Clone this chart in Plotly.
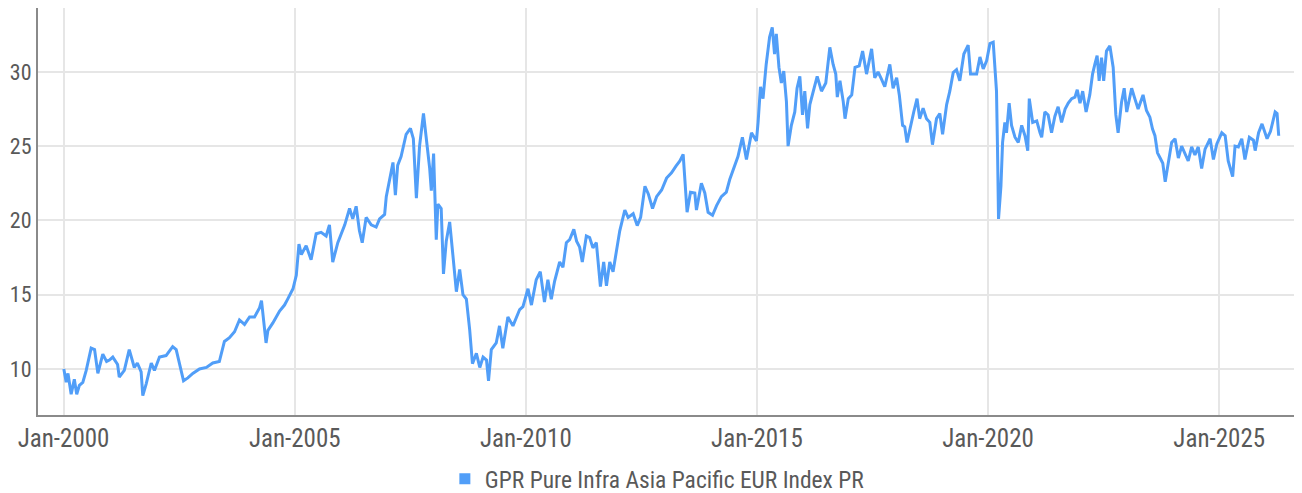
import plotly.graph_objects as go

series_name = "GPR Pure Infra Asia Pacific EUR Index PR"

dates = [
    "2000-01-03", "2000-01-22", "2000-02-05", "2000-03-01", "2000-03-26", "2000-04-14", "2000-05-05", "2000-06-01",
    "2000-06-28", "2000-08-06", "2000-09-02", "2000-09-28", "2000-11-06", "2000-12-06", "2000-12-28", "2001-01-24",
    "2001-03-03", "2001-03-16", "2001-04-25", "2001-06-03", "2001-07-13", "2001-08-06", "2001-09-05", "2001-09-18",
    "2001-10-15", "2001-11-24", "2001-12-19", "2002-01-28", "2002-03-21", "2002-05-12", "2002-06-09", "2002-07-18",
    "2002-08-06", "2002-09-09", "2002-10-18", "2002-12-10", "2003-02-03", "2003-03-25", "2003-05-16", "2003-06-25",
    "2003-08-04", "2003-09-13", "2003-10-22", "2003-12-01", "2004-01-10", "2004-02-18", "2004-03-28", "2004-04-13",
    "2004-05-19", "2004-06-03", "2004-07-12", "2004-09-03", "2004-10-12", "2004-11-06", "2004-12-18", "2005-01-13",
    "2005-02-03", "2005-02-22", "2005-04-01", "2005-05-10", "2005-06-19", "2005-07-28", "2005-09-06", "2005-10-02",
    "2005-10-28", "2005-12-07", "2006-01-31", "2006-03-10", "2006-04-04", "2006-05-01", "2006-05-27", "2006-06-18",
    "2006-07-19", "2006-08-28", "2006-10-06", "2006-11-02", "2006-12-12", "2006-12-25", "2007-01-20", "2007-02-16",
    "2007-03-07", "2007-03-25", "2007-04-21", "2007-05-31", "2007-07-04", "2007-07-27", "2007-08-20", "2007-09-14",
    "2007-10-15", "2007-11-09", "2007-12-03", "2007-12-16", "2008-01-03", "2008-01-24", "2008-02-06", "2008-03-03",
    "2008-03-16", "2008-03-21", "2008-04-12", "2008-05-09", "2008-06-03", "2008-07-01", "2008-07-27", "2008-08-22",
    "2008-09-18", "2008-10-14", "2008-11-05", "2008-12-06", "2009-01-02", "2009-01-28", "2009-02-24", "2009-03-12",
    "2009-04-03", "2009-05-12", "2009-06-07", "2009-07-03", "2009-08-12", "2009-09-21", "2009-11-13", "2009-12-09",
    "2010-01-18", "2010-02-14", "2010-03-24", "2010-04-25", "2010-05-28", "2010-06-24", "2010-07-21", "2010-08-16",
    "2010-09-25", "2010-10-21", "2010-11-17", "2010-12-13", "2011-01-15", "2011-02-06", "2011-03-02", "2011-03-23",
    "2011-04-24", "2011-05-20", "2011-06-15", "2011-07-12", "2011-08-13", "2011-09-08", "2011-09-30", "2011-10-26",
    "2011-11-21", "2011-12-18", "2012-01-13", "2012-02-22", "2012-03-19", "2012-04-28", "2012-05-30", "2012-06-26",
    "2012-07-30", "2012-08-25", "2012-09-28", "2012-10-30", "2012-12-09", "2013-01-17", "2013-02-25", "2013-04-01",
    "2013-05-02", "2013-05-28", "2013-06-10", "2013-06-28", "2013-07-25", "2013-08-28", "2013-09-10", "2013-10-19",
    "2013-11-15", "2013-12-11", "2014-01-15", "2014-02-16", "2014-03-26", "2014-05-04", "2014-05-31", "2014-07-09",
    "2014-08-04", "2014-09-08", "2014-10-10", "2014-11-19", "2014-12-28", "2015-01-10", "2015-01-29", "2015-02-18",
    "2015-03-15", "2015-04-11", "2015-05-02", "2015-05-20", "2015-06-03", "2015-06-24", "2015-07-13", "2015-08-01",
    "2015-08-22", "2015-09-04", "2015-09-30", "2015-10-27", "2015-11-14", "2015-12-06", "2015-12-27", "2016-01-14",
    "2016-02-05", "2016-02-23", "2016-03-19", "2016-04-21", "2016-05-25", "2016-06-28", "2016-07-30", "2016-08-25",
    "2016-09-15", "2016-09-27", "2016-10-18", "2016-11-13", "2016-11-27", "2016-12-23", "2017-01-19", "2017-02-14",
    "2017-03-19", "2017-04-15", "2017-05-16", "2017-06-25", "2017-07-20", "2017-08-15", "2017-09-12", "2017-10-07",
    "2017-11-16", "2017-12-12", "2018-01-09", "2018-01-30", "2018-02-25", "2018-03-14", "2018-04-01", "2018-04-28",
    "2018-05-24", "2018-06-19", "2018-07-10", "2018-08-06", "2018-09-02", "2018-09-28", "2018-10-19", "2018-11-20",
    "2018-12-16", "2019-01-07", "2019-02-08", "2019-03-05", "2019-04-01", "2019-04-27", "2019-05-23", "2019-06-24",
    "2019-07-28", "2019-08-16", "2019-10-03", "2019-10-29", "2019-11-24", "2019-12-21", "2020-01-16", "2020-02-11",
    "2020-02-25", "2020-03-08", "2020-03-16", "2020-03-24", "2020-04-12", "2020-04-25", "2020-05-13", "2020-05-26",
    "2020-06-16", "2020-07-05", "2020-08-01", "2020-08-27", "2020-09-23", "2020-10-19", "2020-11-10", "2020-11-22",
    "2020-12-19", "2021-01-20", "2021-02-15", "2021-02-28", "2021-03-25", "2021-04-20", "2021-05-17", "2021-06-12",
    "2021-07-08", "2021-08-04", "2021-09-01", "2021-09-26", "2021-10-23", "2021-11-18", "2021-12-06", "2021-12-28",
    "2022-01-18", "2022-02-14", "2022-03-15", "2022-04-06", "2022-04-24", "2022-05-12", "2022-05-28", "2022-06-16",
    "2022-07-03", "2022-07-25", "2022-08-21", "2022-09-16", "2022-10-07", "2022-10-25", "2022-11-21", "2022-12-12",
    "2023-01-01", "2023-02-09", "2023-03-06", "2023-04-01", "2023-05-10", "2023-06-06", "2023-07-03", "2023-07-24",
    "2023-08-12", "2023-09-01", "2023-09-22", "2023-10-13", "2023-11-01", "2023-11-26", "2023-12-22", "2024-01-18",
    "2024-02-13", "2024-03-10", "2024-04-05", "2024-05-01", "2024-05-28", "2024-06-23", "2024-07-19", "2024-08-15",
    "2024-09-11", "2024-10-21", "2024-11-16", "2024-12-13", "2025-01-21", "2025-02-17", "2025-03-13", "2025-04-17",
    "2025-05-06", "2025-06-01", "2025-06-28", "2025-07-23", "2025-08-27", "2025-09-28", "2025-10-12", "2025-11-08",
    "2025-12-05", "2026-01-14", "2026-02-10", "2026-03-19", "2026-04-03", "2026-04-16",
]

values = [
    10.0, 9.1, 9.7, 8.3, 9.3, 8.3, 8.9, 9.1,
    9.9, 11.4, 11.3, 9.7, 11.0, 10.5, 10.6, 10.8,
    10.3, 9.45, 9.9, 11.3, 10.1, 10.4, 9.8, 8.2,
    9.0, 10.4, 9.9, 10.8, 10.9, 11.5, 11.3, 10.0,
    9.2, 9.4, 9.7, 10.0, 10.1, 10.4, 10.5, 11.85,
    12.1, 12.5, 13.3, 13.0, 13.5, 13.5, 14.1, 14.6,
    11.75, 12.6, 13.1, 13.9, 14.3, 14.7, 15.4, 16.3,
    18.4, 17.7, 18.3, 17.35, 19.1, 19.2, 18.95, 19.7,
    17.2, 18.5, 19.7, 20.8, 20.1, 20.95, 19.3, 18.5,
    20.2, 19.7, 19.55, 20.1, 20.4, 21.6, 22.7, 23.9,
    21.7, 23.7, 24.3, 25.8, 26.2, 25.5, 21.5, 25.0,
    27.2, 25.5, 23.5, 22.0, 24.5, 18.7, 21.1, 20.8,
    17.9, 16.4, 18.6, 19.9, 17.7, 15.2, 16.7, 15.0,
    14.7, 12.65, 10.35, 11.05, 10.1, 10.8, 10.6, 9.2,
    11.3, 11.75, 12.9, 11.4, 13.5, 12.9, 14.0, 14.2,
    15.4, 14.3, 16.0, 16.55, 14.5, 16.0, 14.7, 15.9,
    17.2, 16.85, 18.5, 18.7, 19.4, 18.6, 18.2, 17.2,
    18.95, 18.85, 18.15, 18.5, 15.55, 17.2, 15.6, 17.2,
    16.55, 17.9, 19.3, 20.7, 20.2, 20.45, 19.65, 20.2,
    22.3, 21.8, 20.8, 21.6, 22.05, 22.85, 23.2, 23.65,
    24.0, 24.45, 22.95, 20.55, 21.9, 21.85, 20.7, 22.5,
    21.85, 20.55, 20.35, 21.0, 21.6, 21.9, 22.75, 23.65,
    24.3, 25.6, 24.1, 25.9, 25.35, 26.6, 29.0, 28.2,
    30.5, 32.35, 33.0, 31.2, 32.55, 30.3, 29.25, 30.05,
    28.0, 25.0, 26.4, 27.3, 28.9, 29.7, 27.1, 28.7,
    26.2, 27.8, 28.7, 29.7, 28.7, 29.25, 31.65, 30.5,
    29.85, 28.3, 29.4, 28.0, 26.85, 28.2, 28.45, 30.3,
    30.4, 31.4, 29.85, 31.55, 29.6, 30.0, 29.5, 29.0,
    30.5, 28.9, 29.6, 28.45, 26.4, 26.3, 25.25, 26.4,
    27.3, 28.2, 26.85, 27.55, 26.85, 26.6, 25.1, 26.85,
    27.2, 25.8, 27.8, 28.7, 29.95, 30.15, 29.4, 31.2,
    31.8, 29.85, 29.85, 31.0, 30.2, 30.75, 31.9, 32.0,
    30.3, 28.7, 24.8, 20.1, 22.3, 25.25, 26.6, 25.9,
    27.9, 26.4, 25.6, 25.25, 26.4, 25.7, 24.7, 28.2,
    26.6, 26.7, 25.9, 25.6, 27.3, 27.1, 25.9, 27.0,
    27.65, 26.6, 27.5, 27.9, 28.2, 28.3, 28.8, 27.9,
    28.7, 27.3, 28.45, 29.85, 30.5, 31.1, 29.4, 30.95,
    29.4, 31.4, 31.75, 30.3, 27.1, 25.9, 27.95, 28.9,
    27.3, 28.9, 28.2, 27.5, 28.45, 27.4, 26.95, 26.15,
    25.7, 24.55, 24.2, 23.85, 22.6, 23.9, 25.25, 25.5,
    24.2, 25.0, 24.55, 24.0, 24.95, 24.4, 24.95, 23.5,
    24.8, 25.5, 24.1, 25.15, 25.9, 25.7, 24.0, 22.95,
    25.0, 24.95, 25.5, 24.1, 25.6, 25.4, 24.7, 25.9,
    26.5, 25.5, 26.0, 27.3, 27.2, 25.7,
]

y_ticks = [10, 15, 20, 25, 30]

line_color = "#519ef8"
text_color = "#595959"
font_family = "Noto Sans Condensed, Roboto Condensed, Liberation Sans Narrow, DejaVu Sans Condensed, Roboto"

fig = go.Figure()
fig.add_trace(go.Scatter(
    x=dates, y=values, mode="lines",
    line=dict(color=line_color, width=3),
    name=series_name, showlegend=False,
))
fig.add_trace(go.Scatter(
    x=[None], y=[None], mode="markers",
    marker=dict(symbol="square", size=11, color=line_color),
    name=series_name, showlegend=True,
))

# The page body adds an 8px offset; the figure is sized to fit the 1302x493 window.
fig.update_layout(
    width=1294, height=485,
    margin=dict(l=30, r=0, t=0, b=78, autoexpand=False),
    paper_bgcolor="white", plot_bgcolor="white",
    font=dict(family=font_family, size=25, color=text_color),
    legend=dict(orientation="h", x=0.49, xanchor="center", y=-0.157, yanchor="middle",
                font=dict(size=23.5, color=text_color), itemwidth=30),
)
fig.update_xaxes(
    type="date", range=["1999-06-13", "2026-10-17"],
    tick0="2000-01-01", dtick="M60", tickformat="%b-%Y",
    showgrid=True, gridcolor="#e6e6e6", gridwidth=2,
    showline=True, linecolor="#8a8a8a", linewidth=2,
    ticks="", zeroline=False, automargin=False,
)
fig.update_yaxes(
    range=[6.9, 34.3], tickvals=y_ticks,
    tickfont=dict(size=22, color=text_color),
    showgrid=True, gridcolor="#e6e6e6", gridwidth=2,
    showline=True, linecolor="#8a8a8a", linewidth=2,
    ticks="", zeroline=False, automargin=False,
)

fig.write_html("out.html")
